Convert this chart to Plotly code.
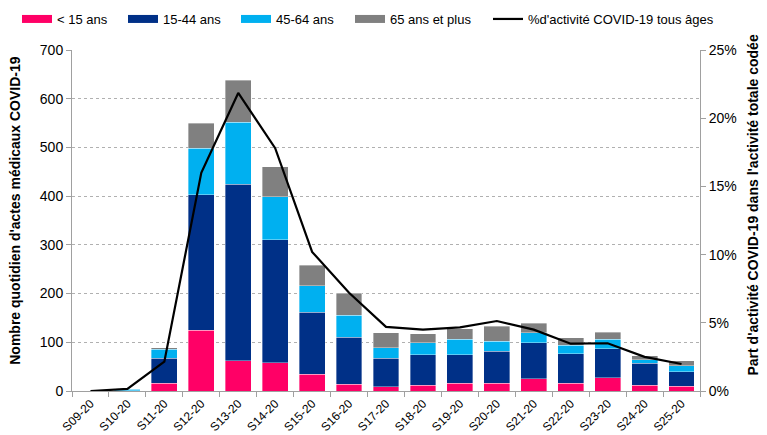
import plotly.graph_objects as go

weeks = ["S09-20", "S10-20", "S11-20", "S12-20", "S13-20", "S14-20", "S15-20", "S16-20", "S17-20",
         "S18-20", "S19-20", "S20-20", "S21-20", "S22-20", "S23-20", "S24-20", "S25-20"]
moins15 = [0, 0.5, 16, 125, 62, 58, 34, 14, 9, 12, 16, 16, 25, 16, 27, 12, 10]
a15_44 = [0, 0.5, 51, 278, 362, 252, 128, 96, 58, 62, 58, 66, 74, 60, 60, 45, 30]
a45_64 = [0, 3, 19, 95, 128, 89, 54, 46, 22, 25, 32, 20, 21, 18, 19, 7, 12]
a65plus = [0, 0.5, 3, 52, 86, 61, 42, 45, 31, 19, 22, 31, 19, 15, 15, 8, 10]
pct_covid = [0.0, 0.15, 2.15, 16.0, 21.85, 17.8, 10.2, 7.2, 4.7, 4.5, 4.67, 5.13, 4.5, 3.47, 3.5, 2.5, 1.98]

font = "Liberation Sans, Arial, sans-serif"
W, H = 759, 427  # page body has an 8px margin
fig = go.Figure()
series = [("< 15 ans", moins15, "#FF0066"), ("15-44 ans", a15_44, "#003087"),
          ("45-64 ans", a45_64, "#00B0F0"), ("65 ans et plus", a65plus, "#808080")]
legend_ids = ["legend", "legend2", "legend3", "legend4", "legend5"]
for i, (name, vals, col) in enumerate(series):
    fig.add_trace(go.Bar(x=weeks, y=vals, name=name, showlegend=False,
                         marker=dict(color=col, line=dict(width=0.6, color="rgba(255,255,255,0.6)"))))
    # legend swatch (rectangle-like)
    fig.add_trace(go.Scatter(x=[None], y=[None], name=name, mode="lines",
                             line=dict(color=col, width=8), legend=legend_ids[i]))
fig.add_trace(go.Scatter(x=weeks, y=[v / 100 for v in pct_covid], name="%d'activité COVID-19 tous âges",
                         mode="lines", line=dict(color="black", width=2.2), yaxis="y2",
                         legend=legend_ids[4]))

leg_x_px = [9, 115, 228, 342, 480]
leg_common = dict(orientation="h", xref="container", yref="container", xanchor="left", yanchor="middle",
                  font=dict(size=13), itemwidth=30, bgcolor="rgba(0,0,0,0)")
legends = {}
for lid, px in zip(legend_ids, leg_x_px):
    legends[lid] = dict(leg_common, x=px / W, y=1 - 11 / H)

fig.update_layout(
    width=W, height=H, barmode="stack", bargap=0.3,
    plot_bgcolor="white", paper_bgcolor="white",
    margin=dict(l=64, r=67, t=42, b=44),
    font=dict(family=font, size=13, color="black"),
    **legends,
    xaxis=dict(type="category", tickangle=-45, showline=True, linecolor="#A0A0A0", linewidth=1,
               ticks="outside", tickson="boundaries", ticklen=5, tickcolor="#A0A0A0",
               tickfont=dict(size=12), automargin=False),
    yaxis=dict(range=[0, 700], dtick=100, showgrid=True, gridcolor="#B0B0B0", griddash="dot",
               showline=True, linecolor="#A0A0A0", ticks="outside", ticklen=5, tickcolor="#A0A0A0",
               tickfont=dict(size=14), zeroline=False, automargin=False),
    yaxis2=dict(range=[0, 0.25], dtick=0.05, tickformat=".0%", overlaying="y", side="right",
                showgrid=False, showline=True, linecolor="#A0A0A0", ticks="outside", ticklen=5,
                tickcolor="#A0A0A0", tickfont=dict(size=14), zeroline=False, automargin=False),
    annotations=[
        dict(text="<b>Nombre quotidien d'actes médicaux COVID-19</b>", xref="paper", yref="paper",
             x=-0.091, y=0.531, textangle=-90, showarrow=False, font=dict(size=14),
             xanchor="center", yanchor="middle"),
        dict(text="<b>Part d'activité COVID-19 dans l'activité totale codée</b>", xref="paper", yref="paper",
             x=1.085, y=0.545, textangle=-90, showarrow=False, font=dict(size=14),
             xanchor="center", yanchor="middle"),
    ],
)
fig.write_html("out.html")
